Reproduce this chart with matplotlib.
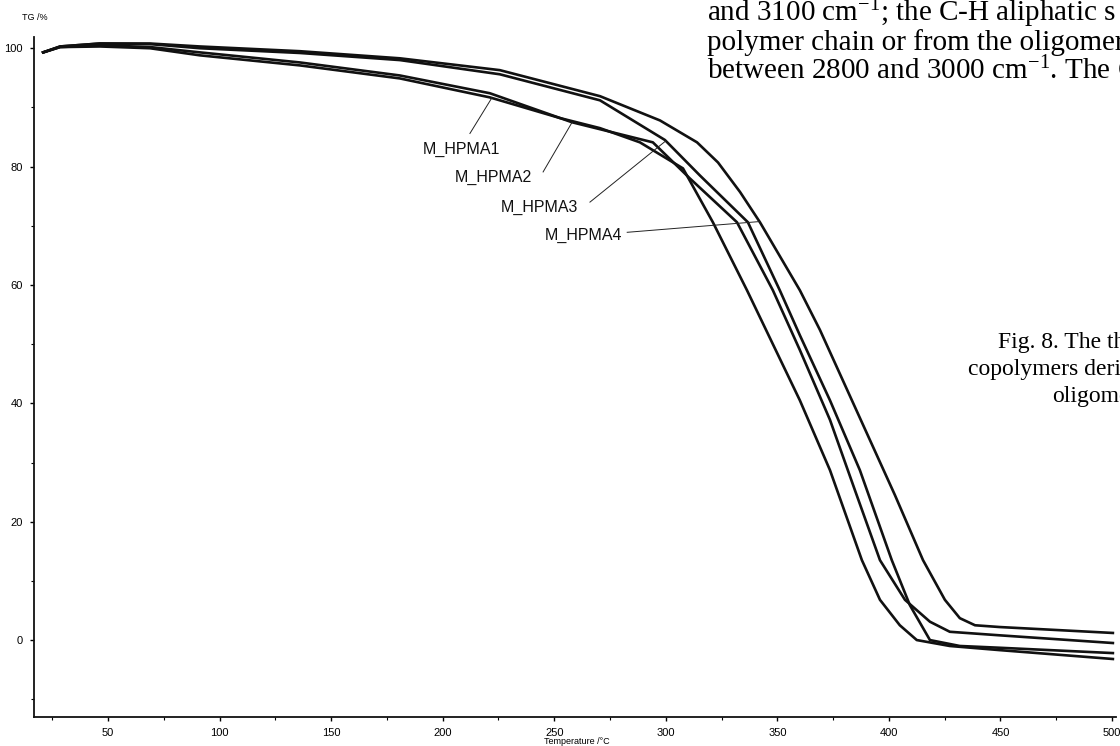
import numpy as np
import matplotlib
matplotlib.use("Agg")
import matplotlib.pyplot as plt

plt.rcParams["font.family"] = ["Liberation Sans", "DejaVu Sans"]
plt.rcParams["mathtext.default"] = "regular"

# TG traces: temperature (°C) vs residual mass (%)
t_hpma1 = [20.9, 28.5, 46.4, 68.8, 91.2, 136.0, 180.8, 221.1, 252.6, 270.5, 288.4,
           307.7, 321.1, 336.4, 360.1, 373.6, 387.9, 396.0, 404.9, 412.5, 427.3, 449.7, 500.4]
w_hpma1 = [99.3, 100.2, 100.3, 100.0, 98.8, 97.1, 94.9, 91.7, 88.2, 86.5, 84.1,
           79.7, 70.6, 59.1, 40.5, 28.7, 13.5, 6.8, 2.5, 0.0, -1.0, -1.7, -3.2]

t_hpma2 = [20.9, 28.5, 46.4, 68.8, 91.2, 136.0, 180.8, 221.1, 257.9, 294.2, 310.8,
           331.9, 348.0, 360.1, 373.6, 384.8, 396.0, 407.2, 418.4, 427.3, 449.7, 500.4]
w_hpma2 = [99.3, 100.2, 100.5, 100.2, 99.3, 97.6, 95.4, 92.4, 87.5, 84.1, 78.0,
           70.6, 59.1, 49.0, 37.2, 25.3, 13.5, 6.8, 3.1, 1.4, 0.8, -0.5]

t_hpma3 = [20.9, 28.5, 46.4, 68.8, 91.2, 136.0, 180.8, 225.6, 270.5, 299.6, 315.3,
           336.8, 351.1, 360.1, 373.6, 387.0, 401.3, 409.4, 418.4, 431.8, 449.7, 500.4]
w_hpma3 = [99.3, 100.3, 100.8, 100.7, 100.0, 99.2, 98.0, 95.6, 91.2, 84.5, 78.5,
           70.6, 59.1, 51.5, 40.5, 28.7, 13.5, 5.9, 0.0, -1.0, -1.3, -2.2]

t_hpma4 = [20.9, 28.5, 46.4, 68.8, 91.2, 136.0, 180.8, 225.6, 270.5, 297.4, 314.0,
           323.4, 333.3, 342.2, 360.1, 369.1, 380.3, 391.5, 402.7, 415.3, 425.1,
           431.8, 438.6, 449.7, 500.4]
w_hpma4 = [99.3, 100.3, 100.8, 100.8, 100.3, 99.5, 98.3, 96.3, 91.9, 87.8, 84.1,
           80.7, 75.7, 70.6, 59.1, 52.4, 43.1, 33.8, 24.5, 13.5, 6.8,
           3.7, 2.5, 2.2, 1.2]

names = ["M_HPMA1", "M_HPMA2", "M_HPMA3", "M_HPMA4"]
# label centre, start of leader, temperature where the leader meets its curve
label_xy = [(208.6, 82.9), (222.6, 78.2), (243.2, 73.1), (263.0, 68.4)]
leader_from = [(212.2, 85.6), (245.0, 79.1), (266.0, 74.0), (282.7, 68.9)]
leader_t = [222.0, 258.0, 300.0, 342.0]

x_ticks = [50, 100, 150, 200, 250, 300, 350, 400, 450, 500]
y_ticks = [0, 20, 40, 60, 80, 100]

fig = plt.figure(figsize=(11.2, 7.46), dpi=100)
ax = fig.add_axes([34 / 1120, 29 / 746, 1082 / 1120, 680 / 746])

series = [(t_hpma1, w_hpma1), (t_hpma2, w_hpma2), (t_hpma3, w_hpma3), (t_hpma4, w_hpma4)]
for t, w in series:
    ax.plot(t, w, color="#111111", lw=1.9, solid_joinstyle="round")

for name, (tx, ty), (lx, ly), lt, (t, w) in zip(names, label_xy, leader_from, leader_t, series):
    ax.text(tx, ty, name, ha="center", va="center", fontsize=11.5, color="#111111")
    ax.plot([lx, lt], [ly, np.interp(lt, t, w)], color="#222222", lw=0.7)

ax.set_xlim(16.8, 501.8)
ax.set_ylim(-13.0, 101.9)
ax.set_xticks(x_ticks)
ax.set_xticks(np.arange(25, 501, 25), minor=True)
ax.set_yticks(y_ticks)
ax.set_yticks(np.arange(-10, 101, 10), minor=True)
ax.tick_params(which="major", direction="out", length=3, width=1, labelsize=8, pad=5)
ax.tick_params(which="minor", direction="out", length=2, width=0.8)

for side in ["top", "right"]:
    ax.spines[side].set_visible(False)
for side in ["left", "bottom"]:
    ax.spines[side].set_linewidth(1.3)
    ax.spines[side].set_color("#111111")

fig.text(22 / 1120, 1 - 18 / 746, "TG /%", fontsize=6.5, va="center", ha="left")
fig.text(577 / 1120, 1 - 742 / 746, "Temperature /°C", fontsize=6.5, va="center", ha="center")

# surrounding page text from the article
body = ["and 3100 cm$^{-1}$; the C-H aliphatic s",
        "polymer chain or from the oligomer",
        "between 2800 and 3000 cm$^{-1}$. The C"]
for i, line in enumerate(body):
    fig.text(707 / 1120, 1 - (21 + 29 * i) / 746, line, fontsize=21,
             family="Liberation Serif", va="baseline", ha="left")

caption = [("Fig. 8. The th", 998), ("copolymers deri", 968), ("oligome", 1052)]
for i, (line, x0) in enumerate(caption):
    fig.text(x0 / 1120, 1 - (348 + 27 * i) / 746, line, fontsize=17,
             family="Liberation Serif", va="baseline", ha="left")

fig.savefig("out.png", dpi=100)
